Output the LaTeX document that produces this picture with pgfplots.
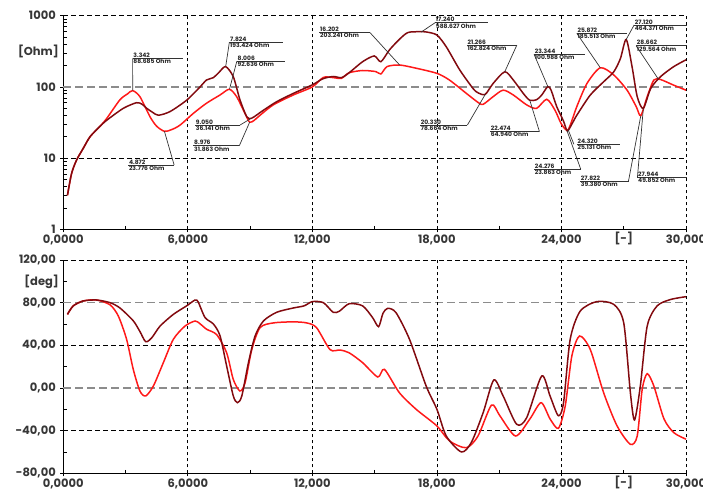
\documentclass[border=0pt]{standalone}
\usepackage{pgfplots}
\pgfplotsset{compat=1.18}
\usepackage{fontspec}
\setmainfont{Poppins}
\definecolor{dkred}{RGB}{130,10,15}
\definecolor{brred}{RGB}{255,25,25}
\definecolor{lbl}{RGB}{55,55,55}
\newcommand{\annot}[8]{%
 \draw[annline] (axis cs:#6,#5) -- (axis cs:#1,#2);
 \draw[annline] (axis cs:#3,#5) -- (axis cs:#4,#5);
 \node[anntext, anchor=south west] at (axis cs:#3,#5) {#7};
 \node[anntext, anchor=north west] at (axis cs:#3,#5) {#8};
}
\tikzset{annline/.style={black!80, line width=0.7pt},
 anntext/.style={inner sep=0.6pt, text=black!85, font=\fontsize{6}{7}\selectfont\bfseries},
 gblack/.style={black, line width=0.7pt, dash pattern=on 5pt off 3pt},
 gvert/.style={black, line width=0.7pt, dash pattern=on 3.5pt off 2.5pt},
 ggray/.style={black!45, line width=1.6pt, dash pattern=on 8pt off 4pt}}
\pgfplotsset{myax/.style={scale only axis, width=622.7pt, xmin=0, xmax=30,
 axis x line*=bottom, axis y line*=left, axis line style={black, line width=1pt, -},
 clip=false, tick align=outside, major tick length=3pt, minor tick length=-3.5pt,
 tick style={black, line width=0.7pt},
 xtick={0,6,12,18,24,30}, xticklabels={{0,0000},{6,0000},{12,000},{18,000},{24,000},{30,000}},
 minor xtick={3,9,15,21},
 extra x ticks={27}, extra x tick labels={[-]},
 extra x tick style={tick align=inside, major tick length=3.5pt},
 ticklabel style={font=\fontsize{11.5}{14}\selectfont\bfseries, text=lbl},
 xticklabel style={yshift=1pt},
 yticklabel style={xshift=-1pt},
 every axis plot/.append style={line width=1.5pt, smooth, tension=0.45}}}
\begin{document}
\begin{tikzpicture}
\path[use as bounding box] (0,0) rectangle (703pt,-490pt);
% ---------------- top: impedance ----------------
\begin{axis}[myax, at={(63.3pt,-229.3pt)}, anchor=south west, height=213.6pt,
 ymode=log, ymin=1, ymax=1000,
 ytick={1,10,100,1000}, yticklabels={1,10,100,1000},
 minor ytick={2,3,4,5,6,7,8,9,20,30,40,50,60,70,80,90,200,300,400,500,600,700,800,900},
 extra y ticks={316}, extra y tick labels={[Ohm]}, extra y tick style={tick align=inside, major tick length=0pt}]
\draw[gblack] (axis cs:0,1000) -- (axis cs:30,1000);
\draw[gblack] (axis cs:0,10) -- (axis cs:30,10);
\draw[ggray] (axis cs:0,100) -- (axis cs:30,100);
\foreach \v in {6,12,18,24,30} {\edef\tmp{\noexpand\draw[gvert] (axis cs:\v,1) -- (axis cs:\v,1000);}\tmp}
\addplot[brred] coordinates {
(0.2,3.0)(0.4,6.1)(0.64,9.4)(0.96,13.7)(1.29,20)(1.77,28)(2.09,36)(2.73,66)(3.1,80)(3.34,88.7)
(3.69,73)(4.18,38)(4.5,28)(4.87,23.8)(5.2,25)(5.62,29)(6.27,42.6)(6.9,59)(7.55,77)(8.0,92.6)
(8.35,73)(8.76,42)(8.98,31.9)(9.2,34)(9.48,40)(10.12,56)(11.08,77)(12,100)(12.53,136)(13.0,135)
(13.4,132)(13.77,158)(14.42,170)(15.06,164)(15.3,152)(15.6,193)(16.2,203)(17.0,183)(18,155)(18.6,125)
(19.42,81)(20.0,60)(20.23,57)(20.71,73)(21.19,90)(21.68,77)(22.32,56)(22.8,50)(23.29,67)(23.69,47)
(24.0,30)(24.32,25.1)(24.74,53)(25.23,112)(25.87,185.5)(26.52,147)(27.16,90)(27.6,53)(27.82,39.4)(28.13,73)
(28.45,125)(28.77,127)(29.4,106)(30,90)};
\addplot[dkred] coordinates {
(0.2,3.0)(0.4,6.1)(0.64,9.4)(0.96,13.7)(1.29,20)(1.77,28)(2.09,34)(2.89,50)(3.53,60)(3.8,57)
(4.02,50)(4.3,44)(4.58,40)(5.14,45)(5.94,65)(6.59,100)(6.9,125)(7.23,135)(7.5,160)(7.82,193)
(8.19,139)(8.51,66)(8.84,38)(9.05,36.1)(9.3,40)(9.64,47)(10.28,62)(11.08,81)(12,107)(12.5,130)
(13.0,140)(13.4,135)(13.77,158)(14.42,226)(14.98,272)(15.3,226)(15.71,330)(16.19,465)(16.6,580)(17.16,596)
(17.5,590)(18,535)(18.45,366)(19.1,173)(19.74,95)(20.0,82)(20.33,78.7)(20.71,112)(21.27,163)(21.68,125)
(22.16,81)(22.47,65)(22.8,66)(23.05,77)(23.34,101)(23.5,90)(23.77,53)(24.1,33)(24.28,24)(24.5,30)
(24.74,40)(25.39,77)(26.03,118)(26.52,163)(26.84,250)(27.12,464)(27.4,193)(27.65,73)(27.94,49.9)(28.3,95)
(28.77,139)(29.4,192)(30,240)};
\annot{3.342}{88.685}{3.34}{5.75}{252}{3.34}{3.342}{88.685 Ohm}
\annot{4.872}{23.776}{3.13}{5.34}{8.0}{5.34}{4.872}{23.776 Ohm}
\annot{7.824}{193.424}{8.0}{10.57}{423}{8.0}{7.824}{193.424 Ohm}
\annot{8.006}{92.636}{8.36}{10.68}{229}{8.36}{8.006}{92.636 Ohm}
\annot{9.050}{36.141}{6.35}{8.52}{29.2}{8.52}{9.050}{36.141 Ohm}
\annot{8.976}{31.863}{6.27}{8.48}{14.9}{8.48}{8.976}{31.863 Ohm}
\annot{16.202}{203.241}{12.34}{14.78}{577}{14.78}{16.202}{203.241 Ohm}
\annot{17.240}{588.627}{17.91}{20.48}{796}{17.91}{17.240}{588.627 Ohm}
\annot{21.266}{162.824}{19.44}{21.85}{386}{21.85}{21.266}{162.824 Ohm}
\annot{20.330}{78.664}{17.19}{19.47}{29.2}{19.47}{20.330}{78.664 Ohm}
\annot{23.344}{100.988}{22.68}{25.14}{287}{22.68}{23.344}{100.988 Ohm}
\annot{22.474}{64.940}{20.56}{22.94}{23.5}{22.94}{22.474}{64.940 Ohm}
\annot{24.320}{25.131}{24.74}{26.8}{15.6}{24.6}{24.320}{25.131 Ohm}
\annot{24.276}{23.863}{22.68}{24.93}{6.96}{24.93}{24.276}{23.863 Ohm}
\annot{25.872}{185.513}{24.74}{27.15}{566}{24.74}{25.872}{185.513 Ohm}
\annot{27.120}{464.371}{27.5}{30.04}{740}{27.5}{27.120}{464.371 Ohm}
\annot{28.662}{129.564}{27.6}{30.04}{378}{27.6}{28.662}{129.564 Ohm}
\annot{27.822}{39.380}{24.9}{27.23}{4.77}{27.23}{27.822}{39.380 Ohm}
\annot{27.944}{49.852}{27.66}{30.04}{5.37}{27.66}{27.944}{49.852 Ohm}
\end{axis}
% ---------------- bottom: phase ----------------
\begin{axis}[myax, at={(63.3pt,-473.3pt)}, anchor=south west, height=213.3pt,
 ymin=-80, ymax=120,
 ytick={-80,-40,0,40,80,120}, yticklabels={{-80,00},{-40,00},{0,00},{40,00},{80,00},{120,00}},
 minor ytick={-60,-20,20,60},
 extra y ticks={100}, extra y tick labels={[deg]}, extra y tick style={tick align=inside, major tick length=3.5pt}]
\draw[gblack] (axis cs:0,120) -- (axis cs:30,120);
\draw[gblack] (axis cs:0,40) -- (axis cs:30,40);
\draw[gblack] (axis cs:0,-40) -- (axis cs:30,-40);
\draw[ggray] (axis cs:0,80) -- (axis cs:30,80);
\draw[ggray] (axis cs:0,0) -- (axis cs:30,0);
\foreach \v in {6,12,18,24,30} {\edef\tmp{\noexpand\draw[gvert] (axis cs:\v,-80) -- (axis cs:\v,120);}\tmp}
\addplot[brred] coordinates {
(0.2,69)(0.48,77)(0.96,81.6)(1.6,82.5)(2.25,78)(2.65,67.5)(3.05,45.6)(3.37,17.5)(3.69,-2.8)(3.97,-7.5)
(4.34,1.9)(4.82,23.75)(5.3,45.6)(5.86,58)(6.35,62.8)(6.6,60)(6.91,55)(7.39,50)(7.87,33)(8.19,8)
(8.51,-2.8)(8.76,5)(9.08,36)(9.48,56.6)(10.12,61)(11.08,62)(11.73,61)(12.2,56.6)(12.85,36)(13.33,35.6)
(13.77,33)(14.42,23.75)(15.15,10.3)(15.47,17.5)(16.19,-4.4)(17.0,-20)(18,-35.6)(18.61,-49.7)(19.42,-56)(19.98,-45)
(20.63,-16)(21.03,-26)(21.79,-45)(22.48,-29)(23.02,-13.75)(23.45,-29)(23.85,-37.8)(24.18,-17)(24.5,30)(24.87,48.75)
(25.39,36)(26.03,-4.4)(26.68,-35.6)(27.32,-52.8)(27.65,-45)(27.89,-1.25)(28.13,13.4)(28.45,1.9)(28.94,-29)(29.42,-42)
(30,-48)};
\addplot[dkred] coordinates {
(0.2,69)(0.48,77)(0.96,81.6)(1.6,82.5)(2.25,80)(2.73,75)(3.37,63)(3.69,53)(3.97,43.4)(4.26,47)
(4.66,58)(5.3,69)(5.94,77)(6.35,82.5)(6.5,80.6)(6.83,66)(7.23,60)(7.55,49)(7.87,20.6)(8.19,-7.5)
(8.39,-13.75)(8.6,-7.5)(8.92,23.75)(9.24,48.75)(9.64,62.8)(10.28,71)(11.08,75)(11.6,77)(12,81)(12.53,80)
(13.0,71)(13.3,72)(13.77,79)(14.42,77)(14.9,66)(15.19,57.5)(15.4,70)(15.63,74.7)(16.03,70.6)(16.68,45.6)
(17.48,1.9)(18,-20)(18.45,-45)(19.18,-60)(19.66,-51)(20.23,-23)(20.74,7.5)(21.19,-7.5)(21.84,-34)(22.32,-28)
(23.05,11.25)(23.45,-7.5)(23.85,-26)(24.1,-13.75)(24.42,45.6)(24.9,72)(25.7,81)(26.52,78.4)(27.0,61)(27.32,-4.4)
(27.52,-30)(27.8,1.9)(28.13,58)(28.61,77)(29.26,83)(30,85.6)};
\end{axis}
\end{tikzpicture}
\end{document}
